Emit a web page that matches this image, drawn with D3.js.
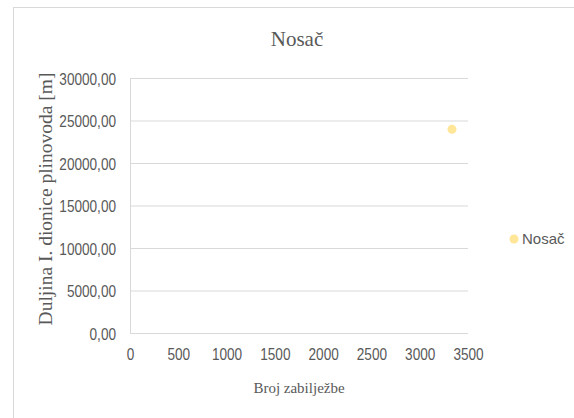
<!DOCTYPE html>
<meta charset="utf-8">
<style>
body { margin: 0; background: #fff; }
.grid line { stroke: #d9d9d9; stroke-width: 1; }
.tick text { fill: #595959; font-family: "Liberation Sans", sans-serif; font-size: 16px; }
.ttl { fill: #595959; font-family: "Liberation Serif", "Times New Roman", serif; }
</style>
<svg width="574" height="418"></svg>
<script src="https://d3js.org/d3.v7.min.js"></script>
<script>

var seriesName = "Nosač";
var xValues = [3334];
var yValues = [23960];
var xTicks = [0, 500, 1000, 1500, 2000, 2500, 3000, 3500];
var yTicks = [0, 5000, 10000, 15000, 20000, 25000, 30000];

var svg = d3.select("svg"),
    plotLeft = 130, plotRight = 468, plotTop = 78, plotBottom = 333;

var squeeze = 0.85; // tick labels are narrow in the original

// chart border
svg.append("rect")
    .attr("x", 13.5).attr("y", 7.5)
    .attr("width", 580).attr("height", 430)
    .attr("fill", "none").attr("stroke", "#d9d9d9");

var x = d3.scaleLinear().domain([0, 3500]).range([plotLeft, plotRight]);
var y = d3.scaleLinear().domain([0, 30000]).range([plotBottom, plotTop]);

// horizontal gridlines + y labels
var yAxis = svg.append("g")
    .attr("class", "grid")
    .attr("transform", "translate(" + plotLeft + ",0)")
    .call(d3.axisLeft(y).tickValues(yTicks)
        .tickSize(-(plotRight - plotLeft))
        .tickFormat(function(d) { return d3.format(".2f")(d).replace(".", ","); }));
yAxis.select(".domain").remove();
yAxis.selectAll(".tick text")
    .attr("x", -14 / squeeze)
    .attr("dy", "0.4em")
    .attr("transform", "scale(" + squeeze + ",1)");

// y axis line
svg.append("line")
    .attr("x1", plotLeft + 0.5).attr("x2", plotLeft + 0.5)
    .attr("y1", plotTop).attr("y2", plotBottom + 0.5)
    .attr("stroke", "#d9d9d9");

var xAxis = svg.append("g")
    .attr("transform", "translate(0," + plotBottom + ")")
    .call(d3.axisBottom(x).tickValues(xTicks).tickSize(0).tickPadding(16)
        .tickFormat(d3.format("d")));
xAxis.select(".domain").remove();
xAxis.selectAll(".tick text").attr("transform", "scale(" + squeeze + ",1)");

// points
svg.append("g").selectAll("circle")
    .data(xValues)
    .enter().append("circle")
    .attr("cx", function(d) { return x(d); })
    .attr("cy", function(d, i) { return y(yValues[i]); })
    .attr("r", 4.5)
    .attr("fill", "#ffe699");

// titles
svg.append("text").attr("class", "ttl")
    .attr("x", 297).attr("y", 46)
    .attr("text-anchor", "middle")
    .style("font-size", "21px")
    .text(seriesName);

svg.append("text").attr("class", "ttl")
    .attr("x", 299).attr("y", 393)
    .attr("text-anchor", "middle")
    .style("font-size", "15px")
    .text("Broj zabilježbe");

svg.append("text").attr("class", "ttl")
    .attr("transform", "translate(52,199) rotate(-90)")
    .attr("text-anchor", "middle")
    .style("font-size", "19.5px")
    .text("Duljina  I. dionice plinovoda [m]");

// legend
var legend = svg.append("g").attr("transform", "translate(514,239)");
legend.append("circle").attr("r", 4.5).attr("fill", "#ffe699");
legend.append("text")
    .attr("x", 8).attr("y", 5)
    .attr("fill", "#595959")
    .style("font-family", "'Liberation Sans', sans-serif")
    .style("font-size", "15px")
    .text(seriesName);

</script>
